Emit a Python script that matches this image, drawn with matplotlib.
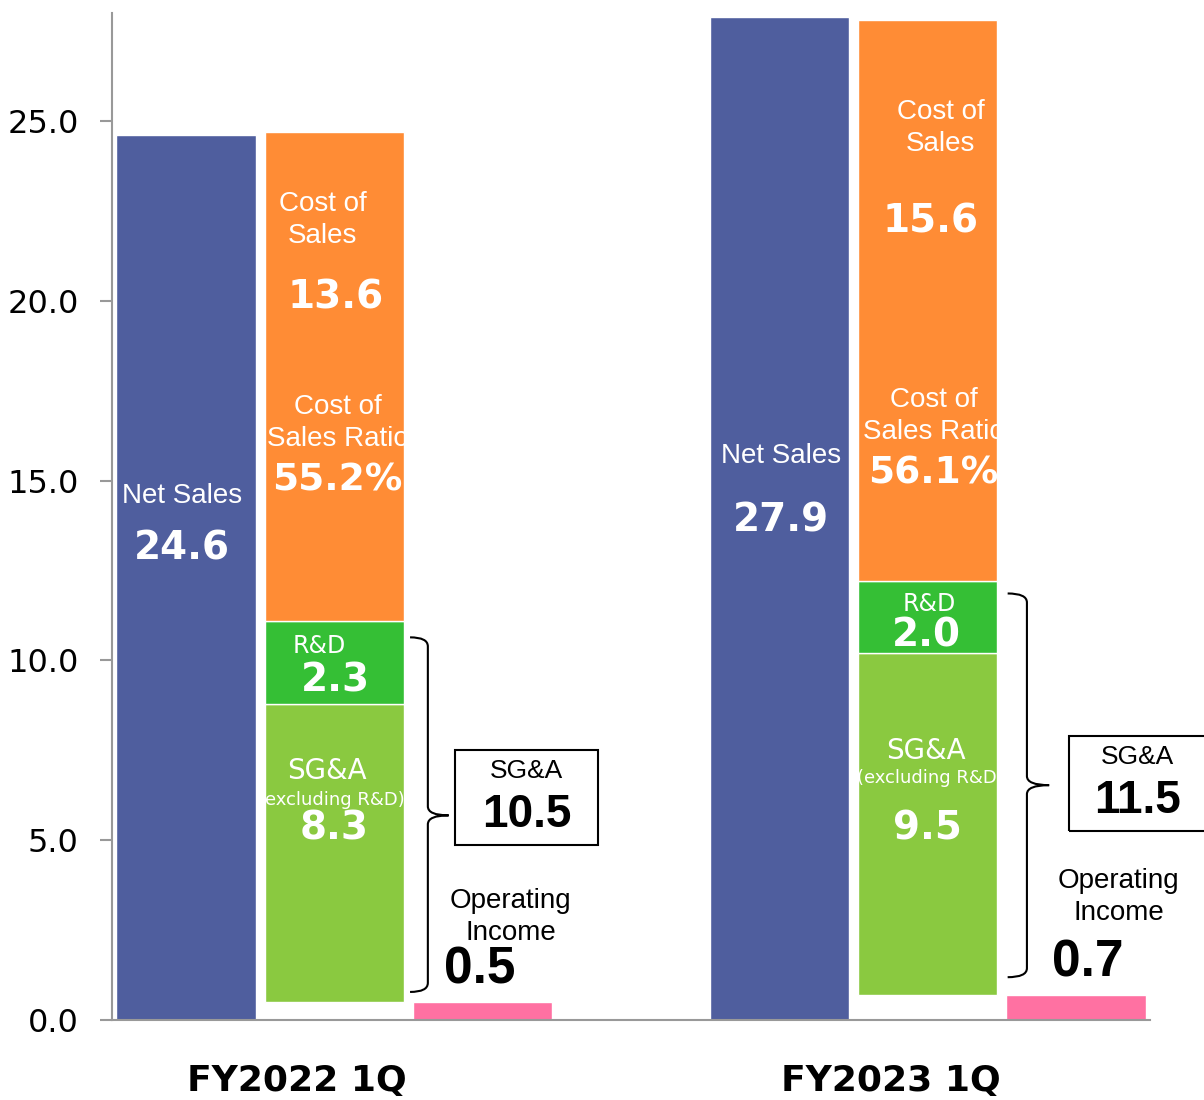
import numpy as np
import matplotlib.pyplot as plt
from matplotlib.patches import Rectangle, PathPatch
from matplotlib.path import Path

# values (billion yen)
periods = ['FY2022 1Q', 'FY2023 1Q']
net_sales = [24.6, 27.9]
cost_of_sales = [13.6, 15.6]
cos_ratio = [55.2, 56.1]
rnd = [2.3, 2.0]
sga_ex_rnd = [8.3, 9.5]
sga_total = [10.5, 11.5]
op_income = [0.5, 0.7]
yticks = [0.0, 5.0, 10.0, 15.0, 20.0, 25.0]

c_net = '#4F5E9E'
c_cos = '#FF8C35'
c_rnd = '#35BF35'
c_sga = '#8AC940'
c_oi = '#FF71A2'

ARIAL = 'Liberation Sans'
VERD = 'DejaVu Sans'

fig = plt.figure(figsize=(12.04, 11), dpi=100)
ax = fig.add_axes([112/1204, 1 - 1020/1100, 1038/1204, 1007/1100])

centers = np.array([0.0, 4.0])
w = 0.94
op = np.array(op_income)
sga = np.array(sga_ex_rnd)
rd = np.array(rnd)

b_net = ax.bar(centers - 1, net_sales, w, color=c_net, edgecolor='white', lw=1)
b_sga = ax.bar(centers, sga, w, bottom=op, color=c_sga, edgecolor='white', lw=1)
b_rnd = ax.bar(centers, rd, w, bottom=op + sga, color=c_rnd, edgecolor='white', lw=1)
b_cos = ax.bar(centers, cost_of_sales, w, bottom=op + sga + rd, color=c_cos, edgecolor='white', lw=1)
b_oi = ax.bar(centers + 1, op_income, w, color=c_oi, edgecolor='white', lw=1)

ax.set_xlim(-1.5, 5.5)
ax.set_ylim(0, 28)
ax.set_yticks(yticks)
ax.set_yticklabels([f'{v:.1f}' for v in yticks], fontsize=23, family=VERD)
ax.set_xticks([])
for s in ['top', 'right']:
    ax.spines[s].set_visible(False)
for s in ['left', 'bottom']:
    ax.spines[s].set_color('#999999')
    ax.spines[s].set_linewidth(1.5)
ax.tick_params(axis='y', length=9, width=1.5, color='#999999', pad=15)


def txt(x, y, s, size, fam, bold=False, color='white', clip=None, **kw):
    t = ax.text(x, y, s, fontsize=size, family=fam, color=color,
                fontweight='bold' if bold else 'normal',
                ha='center', va='center', multialignment='center', **kw)
    if clip is not None:
        t.set_clip_path(clip)
    return t


def brace(x0, x1, xt, ytop, ybot, ymid, r):
    verts = [(x0, ytop), (x1, ytop), (x1, ytop - r),
             (x1, ymid + r), (x1, ymid), (xt, ymid),
             (x1, ymid), (x1, ymid - r),
             (x1, ybot + r), (x1, ybot), (x0, ybot)]
    codes = [Path.MOVETO, Path.CURVE3, Path.CURVE3,
             Path.LINETO, Path.CURVE3, Path.CURVE3,
             Path.CURVE3, Path.CURVE3,
             Path.LINETO, Path.CURVE3, Path.CURVE3]
    ax.add_patch(PathPatch(Path(verts, codes), fill=False, lw=1.5,
                           edgecolor='black', clip_on=False))


# per-period label layout (data coords)
lay = [
    dict(ns=(-1.03, 14.58, 13.1), cos=(-0.08, 22.25, 0.01, 20.1),
         ratio=(0.02, 16.6, 15.0), rd=(-0.1, 10.39, 0.01, 9.44),
         sga=(-0.05, 6.92, 6.11, 0.0, 5.33),
         box=(0.814, 4.86, 0.966, 2.64), brace=(0.51, 0.63, 0.77, 10.64, 0.78, 5.69),
         oi=(1.19, 2.86, 0.98, 1.39)),
    dict(ns=(3.01, 15.67, 13.89), cos=(4.09, 24.8, 4.02, 22.2),
         ratio=(4.04, 16.8, 15.2), rd=(4.01, 11.56, 3.99, 10.69),
         sga=(3.99, 7.47, 6.72, 3.99, 5.33),
         box=(4.956, 5.25, 0.92, 2.64), brace=(4.54, 4.67, 4.82, 11.86, 1.19, 6.53),
         oi=(5.29, 3.41, 5.08, 1.58)),
]

for i, L in enumerate(lay):
    x, y1, y2 = L['ns']
    txt(x, y1, 'Net Sales', 20, ARIAL)
    txt(x, y2, f'{net_sales[i]:.1f}', 28, VERD, bold=True)

    cp = b_cos[i]
    x, y, xn, yn = L['cos']
    txt(x, y, 'Cost of\nSales', 20, ARIAL, clip=cp, linespacing=1.3)
    txt(xn, yn, f'{cost_of_sales[i]:.1f}', 28, VERD, bold=True, clip=cp)
    x, y, yn = L['ratio']
    txt(x, y, 'Cost of\nSales Ratio', 20, ARIAL, clip=cp, linespacing=1.3)
    txt(x, yn, f'{cos_ratio[i]:.1f}%', 27, VERD, bold=True, clip=cp)

    x, y, xn, yn = L['rd']
    txt(x, y, 'R&D', 17, VERD, clip=b_rnd[i])
    txt(xn, yn, f'{rnd[i]:.1f}', 28, VERD, bold=True, clip=b_rnd[i])

    x, y, ys, xn, yn = L['sga']
    txt(x, y, 'SG&A', 20, VERD, clip=b_sga[i])
    txt(x + 0.03, ys, '(excluding R&D)', 13, VERD, clip=b_sga[i])
    txt(centers[i], yn, f'{sga_ex_rnd[i]:.1f}', 28, VERD, bold=True, clip=b_sga[i])

    bx, by, bw, bh = L['box']
    ax.add_patch(Rectangle((bx, by), bw, bh, fill=False, edgecolor='black',
                           lw=1.5, clip_on=False))
    txt(bx + bw / 2, by + bh * 0.78, 'SG&A', 19, ARIAL, color='black', clip_on=False)
    txt(bx + bw / 2, by + bh * 0.32, f'{sga_total[i]:.1f}', 33, ARIAL, bold=True,
        color='black', clip_on=False)

    brace(*L['brace'], r=0.25)

    x, y, xn, yn = L['oi']
    txt(x, y, 'Operating\nIncome', 20, ARIAL, color='black', linespacing=1.3)
    txt(xn, yn, f'{op_income[i]:.1f}', 37, ARIAL, bold=True, color='black')

for c, lab in zip(centers, periods):
    ax.text(c - 0.25, -1.7, lab, fontsize=26, family=VERD, fontweight='bold',
            ha='center', va='center', clip_on=False)

fig.savefig('out.png', dpi=100)
